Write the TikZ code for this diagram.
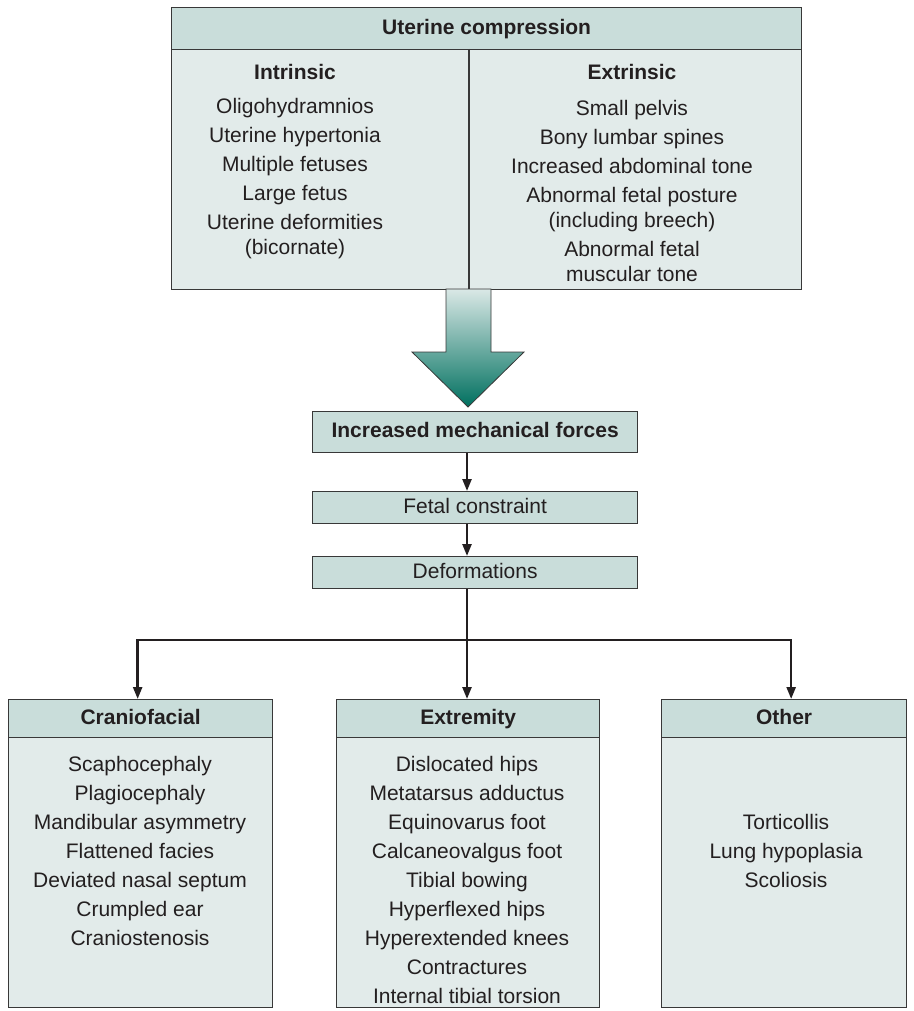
\documentclass[tikz,border=0pt]{standalone}
\usepackage{fontspec}
\setmainfont{Liberation Sans}
\usetikzlibrary{arrows.meta,positioning}
\definecolor{ink}{HTML}{231F20}
\definecolor{edge}{HTML}{383838}
\definecolor{hdrfill}{HTML}{C9DDDA}
\definecolor{panefill}{HTML}{E2EBEA}
\definecolor{tealtop}{HTML}{DAE8E6}
\definecolor{tealbot}{HTML}{00705F}
\newcommand{\bodysize}{\fontsize{21}{25}\selectfont}

\begin{document}
\begin{tikzpicture}[
  x=1pt, y=-1pt,
  font=\bodysize,
  >={Triangle[length=12pt,width=9pt]},
  pane/.style={draw=edge, line width=1.3pt, fill=panefill, inner sep=0pt, anchor=north west},
  mid/.style={pane, fill=hdrfill, text=ink, text height=15pt, text depth=4pt},
  hdr/.style={mid, font=\bodysize\bfseries},
  title/.style={font=\bodysize\bfseries, text=ink},
  list/.style={align=center, text=ink},
  wire/.style={draw=ink, line width=2.4pt},
  conn/.style={wire, ->}
]
\useasboundingbox (0,0) rectangle (913,1011);

% uterine compression
\node[pane, minimum width=630pt, minimum height=240pt] (utbody) at (171,49) {};
\node[hdr, minimum width=630pt, minimum height=42pt] (utcomp) at (171,7) {Uterine compression};
\draw[draw=edge, line width=1.3pt] ([xshift=298pt]utbody.north west) -- ([xshift=298pt]utbody.south west);
\node[title] (intr) at (295,72) {Intrinsic};
\node[list] (intrlist) at (295,179) {Oligohydramnios\\[4pt] Uterine hypertonia\\[4pt] Multiple fetuses\\[4pt] Large fetus\\[4pt] Uterine deformities\\ (bicornate)};
\node[title] (extr) at (632,72) {Extrinsic};
\node[list] (extrlist) at (632,191) {Small pelvis\\[4pt] Bony lumbar spines\\[4pt] Increased abdominal tone\\[4pt] Abnormal fetal posture\\ (including breech)\\[4pt] Abnormal fetal\\ muscular tone};

% big arrow
\shade[top color=tealtop, bottom color=tealbot, draw=edge, line width=0.8pt]
  (446,289) -- (446,352) -- (412,352) -- (468,407) -- (524,352) -- (491,352) -- (491,289) -- cycle;

% chain
\node[hdr, minimum width=325pt, minimum height=41pt] (mech) at (312,411) {Increased mechanical forces};
\node[mid, minimum width=325pt, minimum height=32pt] (fetal) at (312,491) {Fetal constraint};
\node[mid, minimum width=325pt, minimum height=32pt] (deform) at (312,556) {Deformations};
\coordinate (fork) at (467,640);
\draw[conn] (mech.south -| fork) -- (fetal.north -| fork);
\draw[conn] (fetal.south -| fork) -- (deform.north -| fork);

% outcomes
\node[pane, minimum width=264pt, minimum height=270pt] (cranbody) at (8,737) {};
\node[hdr, minimum width=264pt, minimum height=38pt] (cranio) at (8,699) {Craniofacial};
\node[list] (cranlist) at (140,851) {Scaphocephaly\\[4pt] Plagiocephaly\\[4pt] Mandibular asymmetry\\[4pt] Flattened facies\\[4pt] Deviated nasal septum\\[4pt] Crumpled ear\\[4pt] Craniostenosis};
\node[pane, minimum width=263pt, minimum height=270pt] (extbody) at (336,737) {};
\node[hdr, minimum width=263pt, minimum height=38pt] (extrem) at (336,699) {Extremity};
\node[list] (extlist) at (467,880) {Dislocated hips\\[4pt] Metatarsus adductus\\[4pt] Equinovarus foot\\[4pt] Calcaneovalgus foot\\[4pt] Tibial bowing\\[4pt] Hyperflexed hips\\[4pt] Hyperextended knees\\[4pt] Contractures\\[4pt] Internal tibial torsion};
\node[pane, minimum width=245pt, minimum height=270pt] (othbody) at (661,737) {};
\node[hdr, minimum width=245pt, minimum height=38pt] (other) at (661,699) {Other};
\node[list] (othlist) at (786,851) {Torticollis\\[4pt] Lung hypoplasia\\[4pt] Scoliosis};

\draw[wire] (deform.south -| fork) -- (fork);
\draw[conn] (fork) -| ([xshift=-3pt]cranio.north);
\draw[conn] (fork) -- (extrem.north -| fork);
\draw[conn] (fork) -| ([xshift=7pt]other.north);
\end{tikzpicture}
\end{document}
